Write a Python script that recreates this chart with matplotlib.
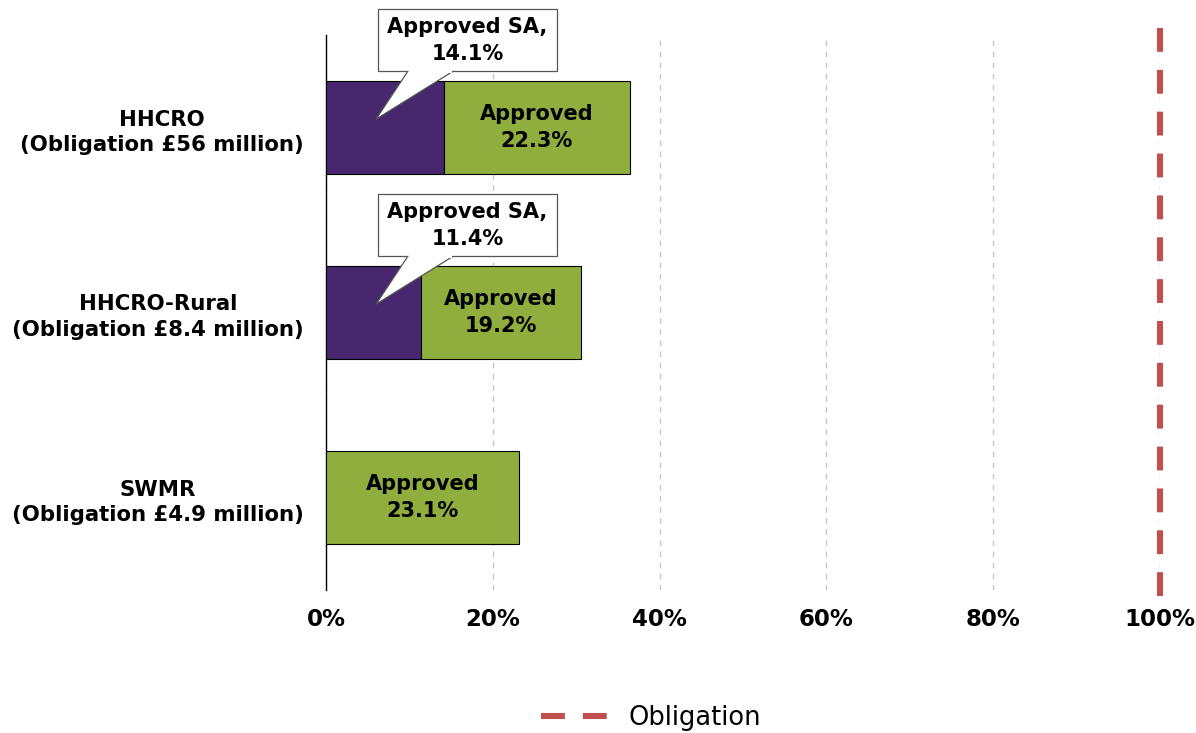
import matplotlib
matplotlib.use("Agg")
import matplotlib.pyplot as plt
import matplotlib.transforms as mtransforms
from matplotlib.lines import Line2D
from matplotlib.patches import Rectangle, Polygon

# data
categories = ["SWMR\n(Obligation £4.9 million)",
              "HHCRO-Rural\n(Obligation £8.4 million)",
              "HHCRO\n(Obligation £56 million)"]
approved_sa = [0.0, 11.4, 14.1]
approved = [23.1, 19.2, 22.3]
obligation = 100
xticks = [0, 20, 40, 60, 80, 100]

purple = "#47286E"
green = "#8FAE3E"
red = "#C0504D"

fig = plt.figure(figsize=(11.96, 7.33), dpi=100)
ax = fig.add_axes([326/1196, 1-590/733, (1160-326)/1196, (590-35)/733])

ypos = list(range(len(categories)))
ax.barh(ypos, approved_sa, height=0.5, color=purple, edgecolor="black", linewidth=0.8, zorder=3)
ax.barh(ypos, approved, left=approved_sa, height=0.5, color=green, edgecolor="black", linewidth=0.8, zorder=3)

# labels inside green segments
for y, sa, ap in zip(ypos, approved_sa, approved):
    ax.text(sa + ap/2, y, "Approved\n%.1f%%" % ap, ha="center", va="center",
            fontsize=15, fontweight="bold", zorder=4, linespacing=1.4)

# speech-bubble callouts for approved SA
for y, sa in zip(ypos, approved_sa):
    if sa <= 0:
        continue
    box = Rectangle((6.2, y + 0.303), 21.5, 0.335, fc="white", ec="#555555", lw=0.9,
                    zorder=6, clip_on=False)
    ax.add_patch(box)
    wedge = Polygon([(9.8, y + 0.303), (6.0, y + 0.045), (15.2, y + 0.303)], closed=False,
                    fc="white", ec="#555555", lw=0.9, zorder=7, clip_on=False)
    ax.add_patch(wedge)
    # cover the box border between the wedge base points
    ax.add_patch(Rectangle((9.9, y + 0.296), 5.2, 0.02, fc="white", ec="none", zorder=8, clip_on=False))
    ax.text(16.95, y + 0.47, "Approved SA,\n%.1f%%" % sa, ha="center", va="center",
            fontsize=15, fontweight="bold", linespacing=1.4, zorder=9, clip_on=False)

# obligation line
ax.plot([obligation, obligation], [-0.53, 2.54], color=red, lw=4.4,
        dashes=(3.9, 2.95), clip_on=False, zorder=5)

ax.set_xlim(0, 100)
ax.set_ylim(-0.5, 2.5)
ax.set_yticks(ypos)
ax.set_yticklabels(categories, fontsize=15.3, fontweight="bold", linespacing=1.35,
                   multialignment="center")
shift = mtransforms.ScaledTranslation(0, 3/72, fig.dpi_scale_trans)
for lab in ax.get_yticklabels():
    lab.set_transform(lab.get_transform() + shift)
ax.set_xticks(xticks)
ax.set_xticklabels(["%d%%" % t for t in xticks], fontsize=16.5, fontweight="bold")
ax.tick_params(length=0)
ax.tick_params(axis="x", pad=13)
ax.tick_params(axis="y", pad=16)
ax.grid(axis="x", color="#C8C8C8", linestyle=(0, (4, 4)), lw=1, zorder=0)
for s in ["top", "right", "bottom"]:
    ax.spines[s].set_visible(False)
ax.spines["left"].set_linewidth(1.0)

handle = Line2D([], [], color=red, lw=4.4, dashes=(3.9, 2.95))
fig.legend([handle], ["Obligation"], loc="center", bbox_to_anchor=(651/1196, 1-718/733),
           frameon=False, fontsize=18.5, handlelength=2.6, handletextpad=0.8)

fig.savefig("out.png", dpi=100)
